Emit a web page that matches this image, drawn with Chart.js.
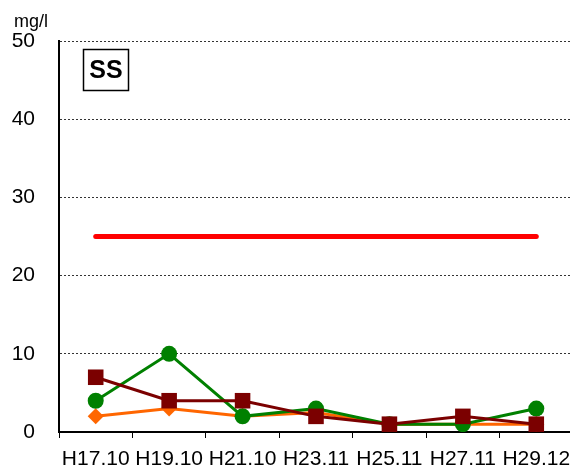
<!DOCTYPE html>
<html>
<head>
<meta charset="utf-8">
<script src="https://cdn.jsdelivr.net/npm/chart.js@4.4.1/dist/chart.umd.min.js"></script>
<style>
  body { margin: 0; background: #fff; overflow: hidden; }
</style>
</head>
<body>
<canvas id="ssChart" width="584" height="473"></canvas>
<script>
// SS (mg/l) by survey date
const labels = ["H17.10", "H19.10", "H21.10", "H23.11", "H25.11", "H27.11", "H29.12"];
const standard = [25, 25, 25, 25, 25, 25, 25];
const orangeSeries = [2, 3, 2, 2.5, 1, 1, 1];
const greenSeries = [4, 10, 2, 3, 1, 1, 3];
const maroonSeries = [7, 4, 4, 2, 1, 2, 1];
const yTicks = [0, 10, 20, 30, 40, 50];

const FONT = "'Liberation Sans', Arial, sans-serif";

// unit label and the "SS" box
const annotations = {
  id: "annotations",
  afterDraw(chart) {
    const ctx = chart.ctx;
    ctx.save();
    ctx.fillStyle = "#000";
    ctx.font = "18px " + FONT;
    ctx.textBaseline = "alphabetic";
    ctx.fillText("mg/l", 14, 27);

    ctx.fillStyle = "#fff";
    ctx.fillRect(83, 49, 46, 42);
    ctx.strokeStyle = "#000";
    ctx.lineWidth = 1.5;
    ctx.strokeRect(83.5, 49.5, 45, 41);
    ctx.fillStyle = "#000";
    ctx.font = "bold 25px " + FONT;
    ctx.textAlign = "center";
    ctx.textBaseline = "middle";
    ctx.fillText("SS", 106, 71);
    ctx.restore();
  },
};

const ctx = document.getElementById("ssChart").getContext("2d");
new Chart(ctx, {
  type: "line",
  data: {
    labels: labels,
    datasets: [
      {
        data: maroonSeries,
        borderColor: "#7b0000",
        backgroundColor: "#7b0000",
        borderWidth: 3,
        pointStyle: "rect",
        pointRadius: 11,
        pointBorderWidth: 0,
        tension: 0,
        order: 1,
      },
      {
        data: greenSeries,
        borderColor: "#008000",
        backgroundColor: "#008000",
        borderWidth: 3,
        pointStyle: "circle",
        pointRadius: 8,
        pointBorderWidth: 0,
        tension: 0,
        order: 2,
      },
      {
        data: orangeSeries,
        borderColor: "#ff6600",
        backgroundColor: "#ff6600",
        borderWidth: 3,
        pointStyle: "rectRot",
        pointRadius: 8,
        pointBorderWidth: 0,
        tension: 0,
        order: 3,
      },
      {
        data: standard,
        borderColor: "#ff0000",
        borderWidth: 5,
        borderCapStyle: "round",
        pointRadius: 0,
        tension: 0,
        order: 4,
      },
    ],
  },
  options: {
    responsive: false,
    animation: false,
    layout: { padding: { top: 41, left: 0, right: 0, bottom: 0 } },
    plugins: {
      legend: { display: false },
      tooltip: { enabled: false },
    },
    scales: {
      x: {
        offset: true,
        afterFit: (scale) => { scale.height = 41; },
        grid: {
          offset: true,
          drawOnChartArea: false,
          drawTicks: true,
          tickLength: 6,
          color: "#000",
        },
        border: { display: true, color: "#000", width: 2 },
        ticks: {
          color: "#000",
          padding: 9,
          maxRotation: 0,
          autoSkip: false,
          font: { family: FONT, size: 21 },
        },
      },
      y: {
        min: yTicks[0],
        max: yTicks[yTicks.length - 1],
        afterFit: (scale) => { scale.width = 59; },
        afterBuildTicks: (scale) => {
          scale.ticks = yTicks.map((v) => ({ value: v }));
        },
        grid: {
          drawTicks: false,
          color: "#333",
          lineWidth: 1,
        },
        border: { display: true, color: "#000", width: 2, dash: [2, 2] },
        ticks: {
          color: "#000",
          padding: 24,
          font: { family: FONT, size: 21 },
        },
      },
    },
  },
  plugins: [annotations],
});
</script>
</body>
</html>
